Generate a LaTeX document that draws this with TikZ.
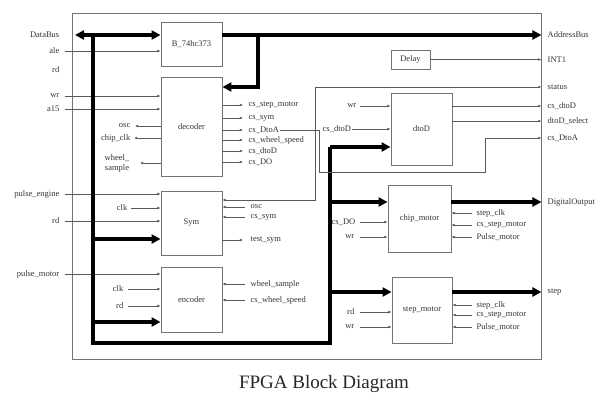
\documentclass[tikz,border=0pt]{standalone}
\usepackage{fontspec}
\setmainfont{Liberation Serif}
\usetikzlibrary{arrows.meta,calc}
\begin{document}
\begin{tikzpicture}[x=1pt,y=-1pt,
  lbl/.style={font=\fontsize{8.5}{9}\selectfont, text=black!80, inner sep=0.5pt},
  blk/.style={draw=black!55, line width=0.9pt, font=\fontsize{8.5}{9}\selectfont, text=black!80, inner sep=0pt},
  frm/.style={draw=black!55, line width=0.9pt, inner sep=0pt},
  sig/.style={draw=black!65, line width=0.7pt, -{Latex[length=3.2pt,width=2.8pt]}},
  sigb/.style={draw=black!65, line width=0.7pt, {Latex[length=3.2pt,width=2.8pt]}-{Latex[length=3.2pt,width=2.8pt]}},
  bus/.style={draw=black, line width=3.4pt},
  busarr/.style={bus, -{Triangle[length=9pt,width=9pt]}},
  busdbl/.style={bus, {Triangle[length=9pt,width=9pt]}-{Triangle[length=9pt,width=9pt]}}]
\useasboundingbox (0,0) rectangle (609,404);

% frame
\node[frm, minimum width=469pt, minimum height=346pt] (frame) at (306.5,186) {};

% blocks
\node[blk, minimum width=61pt, minimum height=44pt] (b74) at (191.5,44) {B\_74hc373};
\node[blk, minimum width=61pt, minimum height=99pt] (dec) at (191.5,126.5) {decoder};
\node[blk, minimum width=61pt, minimum height=64pt] (sym) at (191.5,223) {Sym};
\node[blk, minimum width=61pt, minimum height=65pt] (enc) at (191.5,299.5) {encoder};
\node[blk, minimum width=39pt, minimum height=19pt] (delay) at (410.5,59.5) {Delay};
\node[blk, minimum width=61pt, minimum height=72pt] (dtod) at (421.5,129) {dtoD};
\node[blk, minimum width=63pt, minimum height=67pt] (chip) at (419.5,218.5) {chip\_motor};
\node[blk, minimum width=60pt, minimum height=66pt] (step) at (422,310) {step\_motor};

% left border labels
\node[lbl, anchor=east] (ldata) at (60,35) {DataBus};
\node[lbl, anchor=east] (lale) at (60,51) {ale};
\node[lbl, anchor=east] (lrd) at (60,70) {rd};
\node[lbl, anchor=east] (lwr) at (60,96) {wr};
\node[lbl, anchor=east] (la15) at (60,109) {a15};
\node[lbl, anchor=east] (lpe) at (60,194) {pulse\_engine};
\node[lbl, anchor=east] (lrd2) at (60,221) {rd};
\node[lbl, anchor=east] (lpm) at (60,274) {pulse\_motor};

\draw[sig] (65,51) -- (0,51 -| b74.west);
\draw[sig] (65,96) -- (0,96 -| dec.west);
\draw[sig] (65,109) -- (0,109 -| dec.west);
\draw[sig] (65,194) -- (0,194 -| sym.west);
\draw[sig] (65,221) -- (0,221 -| sym.west);
\draw[sig] (65,274) -- (0,274 -| enc.west);

% inner left labels
\node[lbl, anchor=east] (losc) at (131,126) {osc};
\node[lbl, anchor=east] (lchip) at (131,138) {chip\_clk};
\node[lbl, align=center, font=\fontsize{8.5}{10}\selectfont] (lwheel) at (117,163) {wheel\_\\sample};
\draw[sig] (0,126 -| dec.west) -- (135,126);
\draw[sig] (0,138 -| dec.west) -- (134,138);
\draw[sig] (0,163 -| dec.west) -- (140,163);

\node[lbl, anchor=east] (lclk) at (128,208) {clk};
\draw[sig] (131,208) -- (0,208 -| sym.west);
\node[lbl, anchor=east] (lclk2) at (124,289) {clk};
\draw[sig] (128,289) -- (0,289 -| enc.west);
\node[lbl, anchor=east] (lrd3) at (124,306) {rd};
\draw[sig] (128,306) -- (0,306 -| enc.west);

% thick data bus
\coordinate (bt) at (93,35);
\coordinate (bb) at (93,343);
\coordinate (br) at (330,343);
\coordinate (bu) at (330,147);
\draw[busdbl] (75,35) -- (0,35 -| b74.west);
\draw[bus] (bt) -- (bb) -- (br) -- (bu);
\draw[busarr] (bu) -- (0,147 -| dtod.west);
\draw[busarr] (93,239) -- (0,239 -| sym.west);
\draw[busarr] (93,322) -- (0,322 -| enc.west);
\draw[busarr] (330,202) -- (0,202 -| chip.west);
\draw[busarr] (330,292) -- (0,292 -| step.west);

% address bus
\draw[busarr] (0,35 -| b74.east) -- (0,35 -| frame.east);
\draw[busarr] (258,35) -- (258,87) -- (0,87 -| dec.east);

% decoder outputs
\foreach \yy/\tt/\nn in {105/cs\_step\_motor/o1,118/cs\_sym/o2,130/cs\_DtoA/o3,140/cs\_wheel\_speed/o4,151/cs\_dtoD/o5,162/cs\_DO/o6}{
  \draw[sig] (0,\yy -| dec.east) -- (243,\yy);
  \node[lbl, anchor=west] (\nn) at (248,\yy) {\tt};
}
% cs_DtoA route
\draw[sig] (o3.east) -- (319,130) -- (319,172) -- (485,172) -- (485,138) -- (0,138 -| frame.east);
% status route
\draw[sigb] (0,87 -| frame.east) -- (315,87) -- (315,200) -- (0,200 -| sym.east);

% sym right
\node[lbl, anchor=west] (sosc) at (250,207) {osc};
\node[lbl, anchor=west] (scs) at (250,217) {cs\_sym};
\node[lbl, anchor=west] (stest) at (250,240) {test\_sym};
\draw[sig] (245,207) -- (0,207 -| sym.east);
\draw[sig] (245,217) -- (0,217 -| sym.east);
\draw[sig] (0,240 -| sym.east) -- (243,240);

% encoder right
\node[lbl, anchor=west] (ews) at (250,284) {wheel\_sample};
\node[lbl, anchor=west] (ecs) at (250,300) {cs\_wheel\_speed};
\draw[sig] (245,284) -- (0,284 -| enc.east);
\draw[sig] (245,300) -- (0,300 -| enc.east);

% dtoD inputs
\node[lbl, anchor=east] (dwr) at (357,106) {wr};
\draw[sig] (360,106) -- (0,106 -| dtod.west);
\node[lbl, anchor=west] (dcs) at (322,129) {cs\_dtoD};
\draw[sig] (dcs.east) -- (0,129 -| dtod.west);

% chip_motor / step_motor inputs
\node[lbl, anchor=east] (cdo) at (356,222) {cs\_DO};
\draw[sig] (360,222) -- (0,222 -| chip.west);
\node[lbl, anchor=east] (cwr) at (355,237) {wr};
\draw[sig] (360,237) -- (0,237 -| chip.west);
\node[lbl, anchor=east] (srd) at (355,312) {rd};
\draw[sig] (360,312) -- (0,312 -| step.west);
\node[lbl, anchor=east] (swr) at (355,327) {wr};
\draw[sig] (360,327) -- (0,327 -| step.west);

\foreach \yy/\tt/\nn in {213/step\_clk/c1,225/cs\_step\_motor/c2,237/Pulse\_motor/c3,305/step\_clk/s1,315/cs\_step\_motor/s2,327/Pulse\_motor/s3}{
  \node[lbl, anchor=west] (\nn) at (476,\yy) {\tt};
}
\draw[sig] (472,213) -- (0,213 -| chip.east);
\draw[sig] (472,225) -- (0,225 -| chip.east);
\draw[sig] (472,237) -- (0,237 -| chip.east);
\draw[sig] (472,305) -- (0,305 -| step.east);
\draw[sig] (472,315) -- (0,315 -| step.east);
\draw[sig] (472,327) -- (0,327 -| step.east);

% outputs to right border
\draw[sig] (delay.east) -- (delay.east -| frame.east);
\draw[sig] (0,106 -| dtod.east) -- (0,106 -| frame.east);
\draw[sig] (0,121 -| dtod.east) -- (0,121 -| frame.east);
\draw[busarr] (0,202 -| chip.east) -- (0,202 -| frame.east);
\draw[busarr] (0,292 -| step.east) -- (0,292 -| frame.east);

% right border labels
\node[lbl, anchor=west] (raddr) at (547,35) {AddressBus};
\node[lbl, anchor=west] (rint) at (547,60) {INT1};
\node[lbl, anchor=west] (rstat) at (547,87) {status};
\node[lbl, anchor=west] (rcsd) at (547,106) {cs\_dtoD};
\node[lbl, anchor=west] (rsel) at (547,121) {dtoD\_select};
\node[lbl, anchor=west] (rcsa) at (547,138) {cs\_DtoA};
\node[lbl, anchor=west] (rdig) at (547,202) {DigitalOutput};
\node[lbl, anchor=west] (rstep) at (547,292) {step};

% caption
\node[font=\fontsize{19}{21}\selectfont, text=black!85] (cap) at (324,384) {FPGA Block Diagram};
\end{tikzpicture}
\end{document}
